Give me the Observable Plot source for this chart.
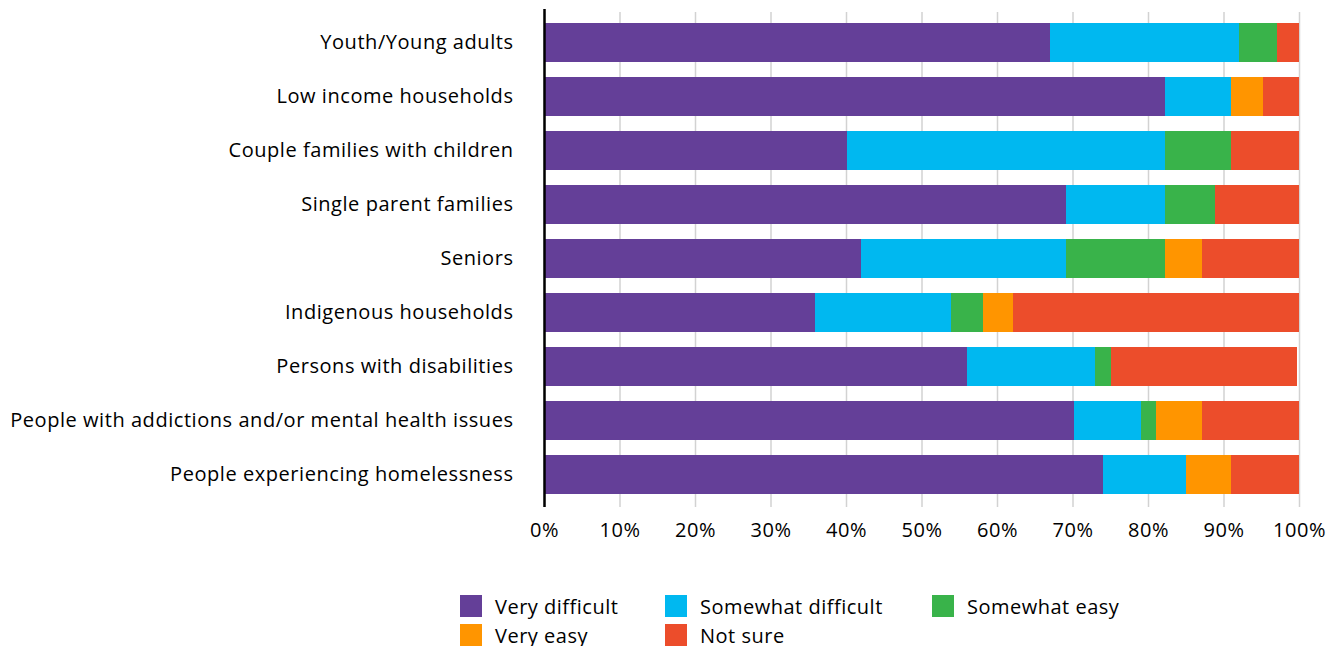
<!DOCTYPE html>
<html>
<head>
<meta charset="utf-8">
<script src="https://cdn.jsdelivr.net/npm/d3@7"></script>
<script src="https://cdn.jsdelivr.net/npm/@observablehq/plot@0.6"></script>
<style>
  body { margin: 0; background: #fff; font-family: "Open Sans", Lato, sans-serif; }
  #chart svg { display: block; }
  #chart svg text { letter-spacing: 0.55px; }
  .legend { display: grid; grid-template-columns: 205px 267px auto; row-gap: 7px; margin-left: 460px; margin-top: 35px; width: 720px; }
  .legend .item { display: flex; align-items: center; font-size: 20px; letter-spacing: 0.5px; color: #000; height: 22px; }
  .legend .sw { width: 22px; height: 22px; margin-right: 13px; flex: none; }
</style>
</head>
<body>
<div id="chart"></div>
<div class="legend" id="legend"></div>
<script>
const categories = [
  "Youth/Young adults",
  "Low income households",
  "Couple families with children",
  "Single parent families",
  "Seniors",
  "Indigenous households",
  "Persons with disabilities",
  "People with addictions and/or mental health issues",
  "People experiencing homelessness"
];
const seriesNames = ["Very difficult", "Somewhat difficult", "Somewhat easy", "Very easy", "Not sure"];
const seriesColors = ["#643F98", "#00B8F0", "#39B34A", "#FF9500", "#EC4D2B"];

const veryDifficult     = [67.0, 82.2, 40.1, 69.1, 42.0, 35.9, 56.0, 70.2, 74.0];
const somewhatDifficult = [25.1,  8.8, 42.1, 13.1, 27.1, 18.0, 17.0,  8.9, 11.0];
const somewhatEasy      = [ 5.0,  0.0,  8.8,  6.7, 13.1,  4.2,  2.1,  2.0,  0.0];
const veryEasy          = [ 0.0,  4.2,  0.0,  0.0,  5.0,  4.0,  0.0,  6.1,  6.0];
const notSure           = [ 2.9,  4.8,  9.0, 11.1, 12.8, 37.9, 24.7, 12.8,  9.0];

const xTicks = [0, 10, 20, 30, 40, 50, 60, 70, 80, 90, 100];

const seriesValues = [veryDifficult, somewhatDifficult, somewhatEasy, veryEasy, notSure];
const data = [];
seriesNames.forEach((s, si) => {
  categories.forEach((c, ci) => {
    data.push({category: c, series: s, value: seriesValues[si][ci]});
  });
});

const chart = Plot.plot({
  width: 1340,
  height: 560,
  marginLeft: 544,
  marginRight: 41,
  marginTop: 13,
  marginBottom: 57,
  style: { fontFamily: "'Open Sans', Lato, sans-serif", fontSize: "20px", color: "#000" },
  x: { domain: [0, 100], ticks: xTicks, tickFormat: d => d + "%", label: null },
  y: { domain: categories, paddingInner: 0.28, paddingOuter: 0.14, label: null },
  color: { domain: seriesNames, range: seriesColors },
  marks: [
    Plot.ruleX(xTicks, { stroke: "#d2d2d2", strokeWidth: 1.5, insetTop: -1, insetBottom: -4 }),
    Plot.barX(data, { x: "value", y: "category", fill: "series", order: seriesNames, shapeRendering: "crispEdges" }),
    Plot.ruleX([0], { stroke: "#000", strokeWidth: 2.5, insetTop: -4, insetBottom: -4 }),
    Plot.axisX({ ticks: xTicks, tickFormat: d => d + "%", tickSize: 0, tickPadding: 19, fontSize: 20, label: null }),
    Plot.axisY({ tickSize: 0, tickPadding: 31, fontSize: 20, label: null })
  ]
});
document.getElementById("chart").appendChild(chart);

const legend = document.getElementById("legend");
seriesNames.forEach((s, i) => {
  const item = document.createElement("div");
  item.className = "item";
  const sw = document.createElement("span");
  sw.className = "sw";
  sw.style.background = seriesColors[i];
  const t = document.createElement("span");
  t.textContent = s;
  item.appendChild(sw);
  item.appendChild(t);
  legend.appendChild(item);
});
</script>
</body>
</html>
